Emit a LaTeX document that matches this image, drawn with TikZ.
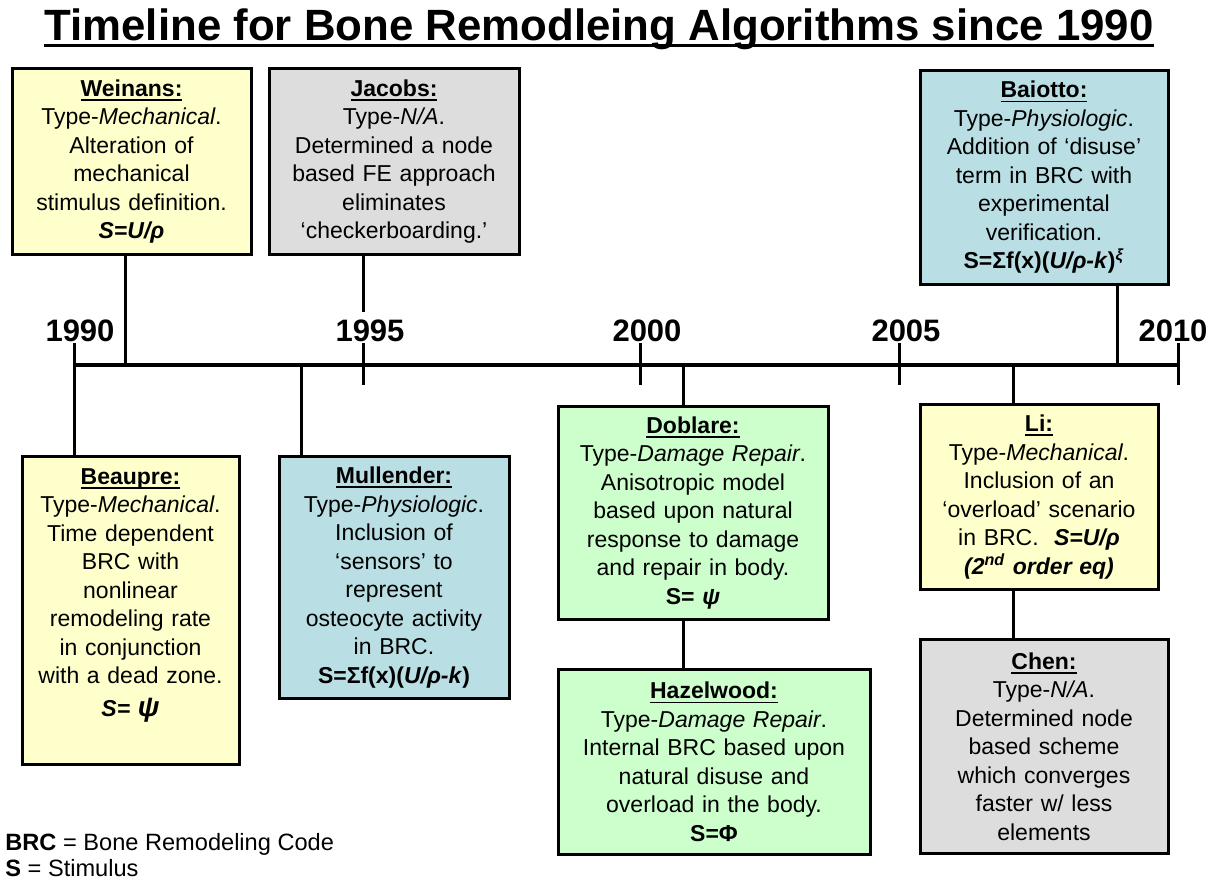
\documentclass[tikz,border=0pt]{standalone}
\usepackage{fontspec}
\setmainfont{Liberation Sans}
\usepackage{tikz}
\usetikzlibrary{positioning}

\definecolor{mechyellow}{HTML}{FFFFCC}
\definecolor{nagray}{HTML}{DDDDDD}
\definecolor{physblue}{HTML}{B9DEE3}
\definecolor{damgreen}{HTML}{CCFFCC}

\newcommand{\hd}[1]{\textbf{\setbox0\hbox{#1}\rlap{\rule[-2.2pt]{\wd0}{0.9pt}}\box0}}

\begin{document}
\begin{tikzpicture}[x=0.5pt,y=-0.5pt,
  event/.style={draw,line width=1.5pt,anchor=north,align=center,inner sep=0pt,
    font=\fontsize{11.5}{14.25}\selectfont},
  link/.style={line width=1.5pt},
  yearlabel/.style={anchor=base,inner sep=0pt,font=\fontsize{15.5}{18}\selectfont\bfseries},
  note/.style={anchor=base west,inner sep=0pt,font=\fontsize{11.8}{14}\selectfont}]
\useasboundingbox (0,0) rectangle (1216,884);
\node[anchor=base,inner sep=0pt,font=\fontsize{21.9}{26}\selectfont\bfseries] (title) at (599,40) {Timeline for Bone Remodleing Algorithms since 1990};
\draw[line width=1.3pt] ([yshift=-2.6pt]title.base west) -- ([yshift=-2.6pt]title.base east);
\coordinate (tl0) at (74,365);
\coordinate (tl1) at (1178,365);
\draw[line width=2.3pt] (tl0) -- (tl1);
\foreach \tx/\lx/\yr in {74/80/1990,363/370/1995,640/647/2000,899/906/2005,1178/1173/2010}{
  \draw[link] (\tx,343) -- (\tx,385);
  \node[yearlabel] (y\yr) at (\lx,341) {\yr};
}
\node[event,minimum width=119.5pt,minimum height=93pt,text width=115pt,fill=mechyellow] (weinans) at (131.5,67) {\hd{Weinans:}\\ Type-\textit{Mechanical}.\\ Alteration of\\ mechanical\\ stimulus definition.\\ \textbf{\textit{S=U/ρ}}};
\node[event,minimum width=125pt,minimum height=93pt,text width=120pt,fill=nagray] (jacobs) at (394,67) {\hd{Jacobs:}\\ Type-\textit{N/A}.\\ Determined a node\\ based FE approach\\ eliminates\\ ‘checkerboarding.’};
\node[event,minimum width=124pt,minimum height=107pt,text width=120pt,fill=physblue] (baiotto) at (1044,69) {\hd{Baiotto:}\\ Type-\textit{Physiologic}.\\ Addition of ‘disuse’\\ term in BRC with\\ experimental\\ verification.\\ \textbf{S=Σf(x)(\textit{U/ρ-k})\textsuperscript{\textit{ξ}}}};
\node[event,minimum width=108.5pt,minimum height=154pt,text width=105pt,fill=mechyellow] (beaupre) at (130.5,455) {\hd{Beaupre:}\\ Type-\textit{Mechanical}.\\ Time dependent\\ BRC with\\ nonlinear\\ remodeling rate\\ in conjunction\\ with a dead zone.\\[2pt] \textbf{\textit{S= {\fontsize{14}{14}\selectfont ψ}}}\rule[-18pt]{0pt}{18pt}};
\node[event,minimum width=115pt,minimum height=121pt,text width=111pt,fill=physblue] (mullender) at (394,455) {\hd{Mullender:}\\ Type-\textit{Physiologic}.\\ Inclusion of\\ ‘sensors’ to\\ represent\\ osteocyte activity\\ in BRC.\\ \textbf{S=Σf(x)(\textit{U/ρ-k})}};
\node[event,minimum width=135pt,minimum height=106.5pt,text width=131pt,fill=damgreen] (doblare) at (693,405) {\hd{Doblare:}\\ Type-\textit{Damage Repair}.\\ Anisotropic model\\ based upon natural\\ response to damage\\ and repair in body.\\ \textbf{S= \textit{ψ}}};
\node[event,minimum width=156pt,minimum height=92.5pt,text width=150pt,fill=damgreen] (hazelwood) at (714,668) {\hd{Hazelwood:}\\ Type-\textit{Damage Repair}.\\ Internal BRC based upon\\ natural disuse and\\ overload in the body.\\ \textbf{S=Φ}};
\node[event,minimum width=119pt,minimum height=92.5pt,text width=115pt,fill=mechyellow] (li) at (1039,403) {\hd{Li:}\\ Type-\textit{Mechanical}.\\ Inclusion of an\\ ‘overload’ scenario\\ in BRC.\ \ \textbf{\textit{S=U/ρ}}\\ \textbf{\textit{(2\textsuperscript{nd} order eq)}}};
\node[event,minimum width=124pt,minimum height=107pt,text width=120pt,fill=nagray] (chen) at (1044,638) {\hd{Chen:}\\ Type-\textit{N/A}.\\ Determined node\\ based scheme\\ which converges\\ faster w/ less\\ elements};
\coordinate (c-weinans) at (125,365);
\coordinate (c-jacobs) at (363,365);
\coordinate (c-baiotto) at (1117,365);
\coordinate (c-beaupre) at (74,365);
\coordinate (c-mullender) at (301,365);
\coordinate (c-doblare) at (683,365);
\coordinate (c-li) at (1013,365);
\draw[link] (c-weinans) -- (c-weinans |- weinans.south);
\draw[link] ([yshift=3.5pt]c-jacobs |- y1995.north) -- (c-jacobs |- jacobs.south);
\draw[link] (c-baiotto) -- (c-baiotto |- baiotto.south);
\draw[link] (c-beaupre) -- (c-beaupre |- beaupre.north);
\draw[link] (c-mullender) -- (c-mullender |- mullender.north);
\draw[link] (c-doblare) -- (c-doblare |- doblare.north);
\draw[link] (c-doblare |- doblare.south) -- (c-doblare |- hazelwood.north);
\draw[link] (c-li) -- (c-li |- li.north);
\draw[link] (c-li |- li.south) -- (c-li |- chen.north);
\node[note] (brc) at (5,850) {\textbf{BRC} = Bone Remodeling Code};
\node[note] (stim) at (5,876) {\textbf{S} = Stimulus};
\end{tikzpicture}
\end{document}
